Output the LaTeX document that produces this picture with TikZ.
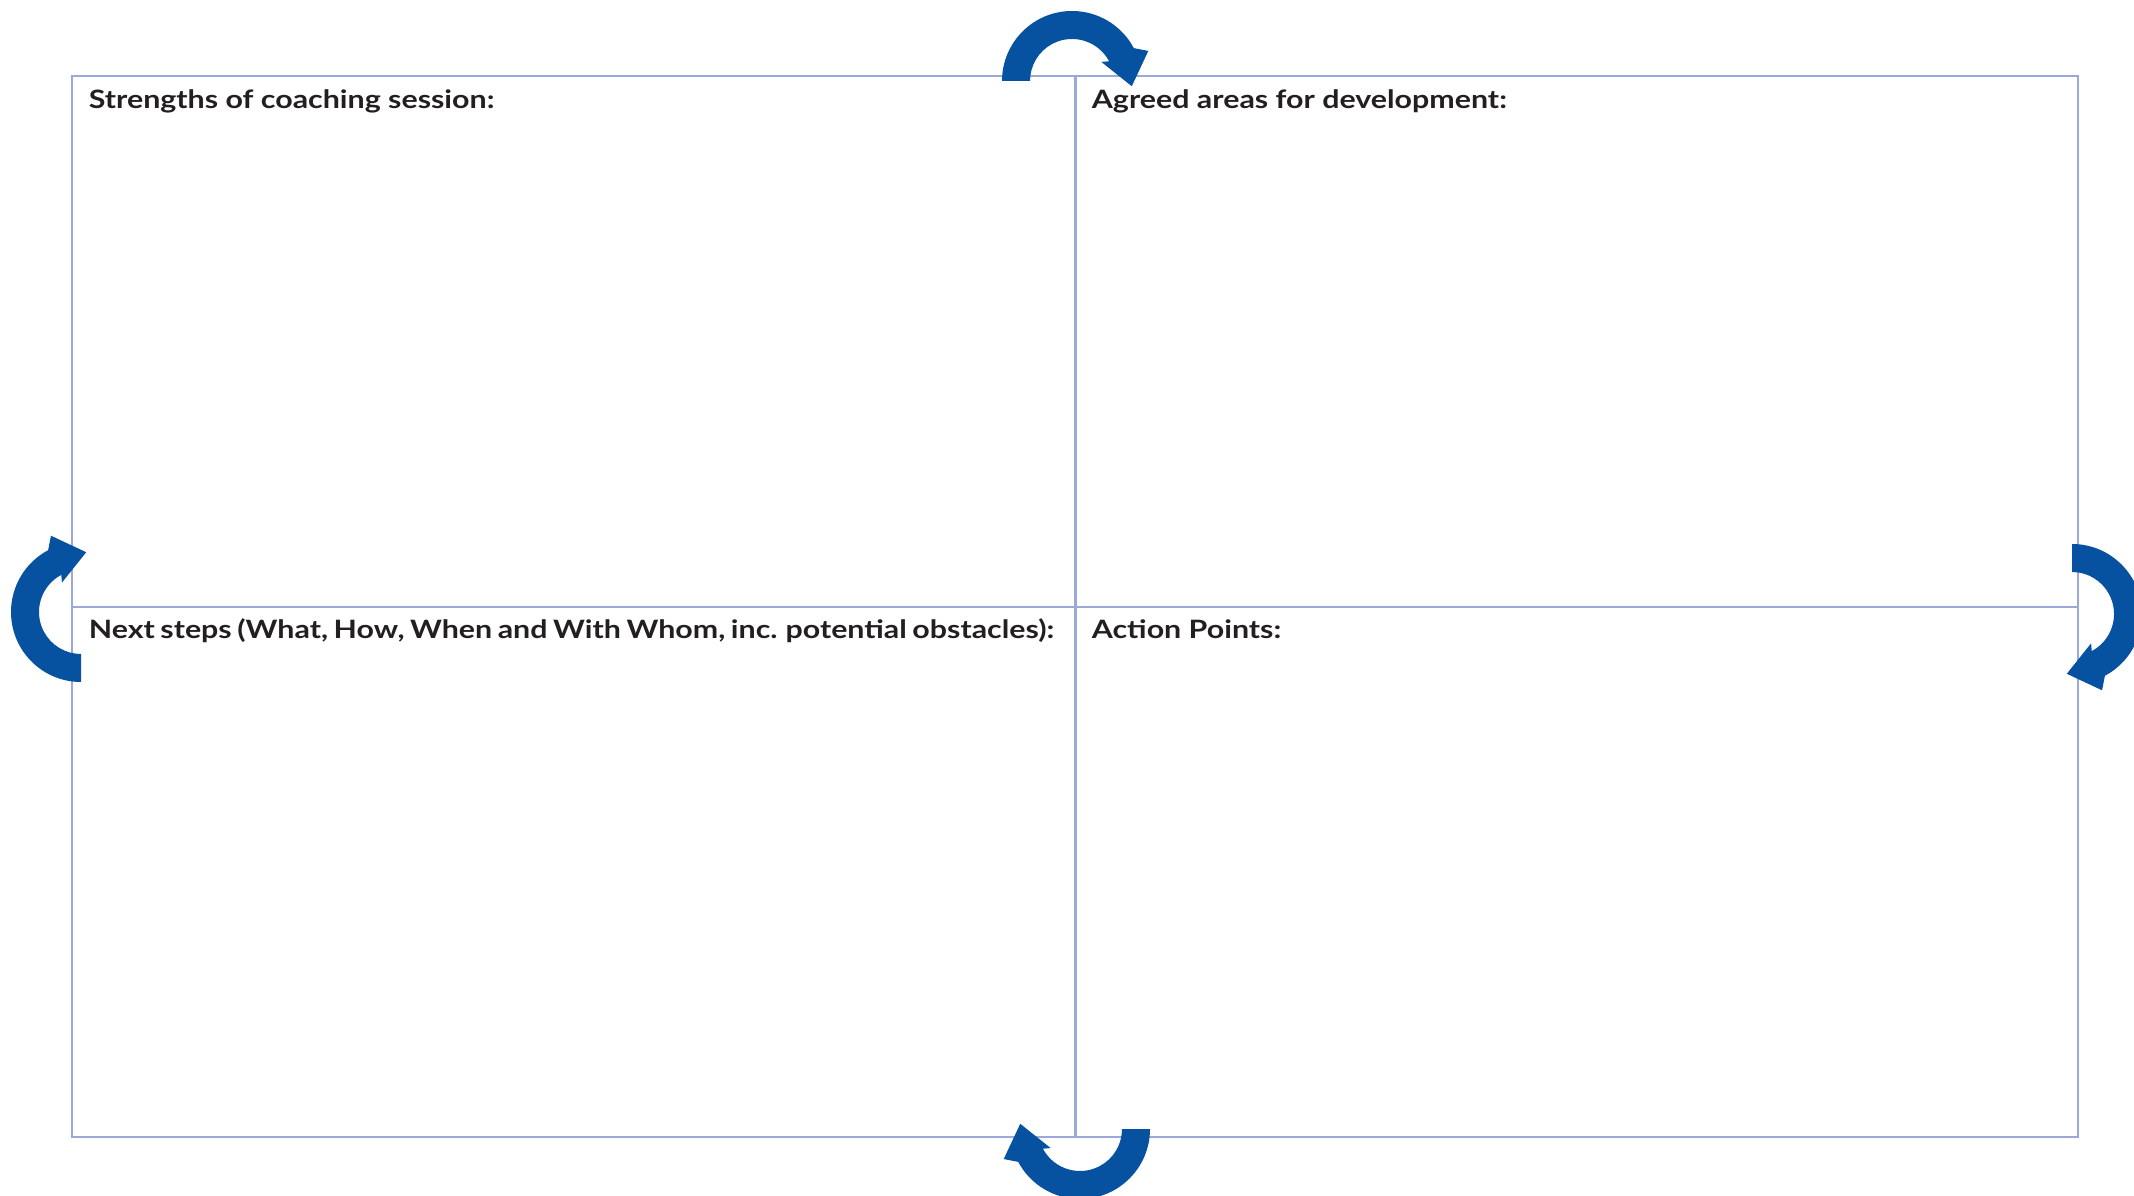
\documentclass[tikz,border=0pt]{standalone}
\usepackage{fontspec}
\setmainfont{Lato}
\usepackage{xcolor}
\usepackage{tikz}

\definecolor{gridblue}{HTML}{9AA8DA}
\definecolor{arrowblue}{HTML}{0652A0}
\definecolor{textdark}{HTML}{231F20}

\tikzset{
  cell/.style={draw=gridblue, line width=0.6pt},
  heading/.style={anchor=base west, inner sep=0pt, text=textdark,
    xscale=1.2, transform shape,
    font=\fontsize{7.2}{8.6}\selectfont\bfseries},
  cyclearrow/.pic={
    \fill[arrowblue] (180:0.70) arc[start angle=180, end angle=28, radius=0.70]
      -- (21.5:0.82) -- (-5:0.60) -- (33:0.35) -- (28:0.42)
      arc[start angle=28, end angle=180, radius=0.42] -- cycle;
  }
}

\begin{document}
\begin{tikzpicture}
      \useasboundingbox (0,0) rectangle (21.34,11.95);

      % corners and midpoints of the grid
      \coordinate (nw) at (0.72,11.19);
      \coordinate (ne) at (20.78,11.19);
      \coordinate (sw) at (0.72,0.58);
      \coordinate (se) at (20.78,0.58);
      \coordinate (n) at (10.755,11.19);
      \coordinate (s) at (10.755,0.58);
      \coordinate (w) at (0.72,5.88);
      \coordinate (e) at (20.78,5.88);

      \draw[cell] (nw) -- (ne) -- (se) -- (sw) -- cycle;
      \draw[cell] (n) -- (s);
      \draw[cell] (w) -- (e);

      \node[heading] (strengths) at (0.88,10.86) {Strengths of coaching session:};
      \node[heading] (agreed) at (10.91,10.86) {Agreed areas for development:};
      \node[heading] (next) at (0.88,5.56) {\spaceskip=0.75\fontdimen2\font
        Next steps (What, How, When and With Whom, inc. potential obstacles):};
      \node[heading] (action) at (10.91,5.56) {Action Points:};

      % the four turning arrows
      \pic at (10.72,11.14) {cyclearrow};
      \pic[rotate=-90] at (20.72,5.81) {cyclearrow};
      \pic[rotate=180] at (10.80,0.66) {cyclearrow};
      \pic[rotate=90] at (0.81,5.83) {cyclearrow};
    \end{tikzpicture}
\end{document}
